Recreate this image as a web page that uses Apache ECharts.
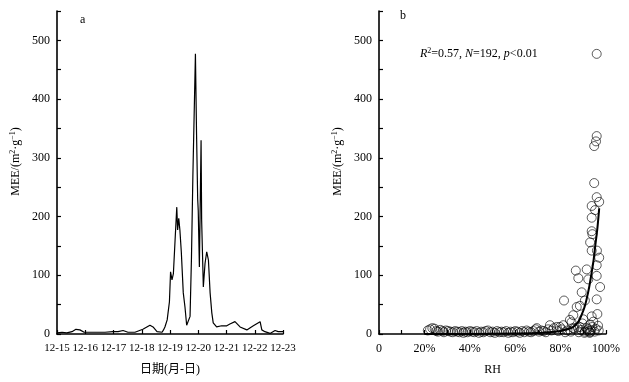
<!DOCTYPE html>
<html>
<head>
<meta charset="utf-8">
<script src="https://cdn.jsdelivr.net/npm/echarts@6/dist/echarts.min.js"></script>
<style>
  html, body { margin: 0; padding: 0; background: #fff; }
  #chart { width: 629px; height: 382px; }
</style>
</head>
<body>
<div id="chart"></div>
<script>
// a: 日期 tick labels (day index 0..8)
var dateLabels = ['12-15', '12-16', '12-17', '12-18', '12-19', '12-20', '12-21', '12-22', '12-23'];

// a: MEE 时间序列 (x = 自12-15起的天数)
var meeDays = [0, 0.18, 0.35, 0.53, 0.67, 0.81, 0.96, 1.35, 1.70, 1.98, 2.16, 2.34, 2.51, 2.76,
  3.04, 3.29, 3.40, 3.54, 3.72, 3.77, 3.82, 3.90, 3.98, 4.02, 4.07, 4.12, 4.18, 4.24, 4.27,
  4.31, 4.35, 4.40, 4.44, 4.47, 4.53, 4.59, 4.65, 4.71, 4.76, 4.81, 4.90, 4.94, 4.98, 5.00,
  5.04, 5.10, 5.12, 5.18, 5.24, 5.30, 5.36, 5.42, 5.48, 5.53, 5.65, 5.83, 6.01, 6.12, 6.30,
  6.48, 6.72, 6.95, 7.19, 7.25, 7.36, 7.54, 7.72, 7.83, 8.0];
var meeValues = [2, 3, 2, 4, 8, 7, 3, 3, 3, 4, 4, 6, 3, 3,
  8, 15, 12, 4, 3, 7, 12, 24, 55, 106, 92, 103, 160, 216, 177,
  197, 177, 140, 140, 70, 46, 15, 12, 30, 130, 270, 477, 340, 230, 210,
  114, 330, 194, 80, 120, 140, 126, 70, 36, 19, 12, 14, 14, 17, 21,
  12, 7, 14, 21, 7, 4, 1, 6, 4, 4];

// b: RH (%) 与 MEE 散点
var rhPoints = [21.5, 22.5, 23.5, 24.5, 25.2, 26, 27, 28, 28.6, 29.5, 30.5, 31.5, 32.5, 33.5, 34.5,
  35.5, 36.5, 37.2, 38, 39, 40, 41, 42, 43, 44, 45, 46, 47, 48, 49, 50, 51, 52, 53, 54, 55,
  56, 57, 58, 59, 60, 61, 62, 63, 64, 65, 66, 67, 68, 69, 69.5, 70.5, 71.5, 72.5, 73.5, 74.5,
  75.3, 76, 77, 78.3, 79, 79.7, 80.5, 81.2, 81.5, 82, 83, 84.1, 84.5, 85.6, 85.6, 86, 86.7, 87.1,
  87.8, 88, 88.5, 88.5, 89, 89.3, 90, 90.5, 90.7, 90.7, 91.5, 91.5, 92, 92.2, 92.5, 93, 93, 93,
  93.4, 93.7, 93.7, 93.7, 93.7, 93.7, 94, 94, 94.4, 94.8, 94.8, 95, 95.2, 95.5, 95.6, 95.9, 95.9,
  95.9, 95.9, 95.9, 95.9, 96.2, 96.5, 96.8, 97, 97, 97.4, 96, 92.8, 89.6, 87.4, 84.8];
var meePoints = [6, 8, 10, 9, 5, 4, 7, 5, 3, 6, 5, 4, 3, 5, 4,
  3, 5, 2, 4, 3, 5, 4, 3, 5, 2, 4, 3, 5, 6, 3, 4, 2, 5, 3, 4, 3,
  5, 2, 4, 3, 5, 4, 2, 5, 3, 6, 4, 3, 5, 8, 10, 4, 6, 5, 3, 8,
  15, 6, 10, 12, 5, 12, 8, 15, 57, 3, 6, 24, 4, 32, 10, 9, 108, 46,
  95, 3, 48, 12, 7, 71, 25, 2, 57, 4, 110, 10, 8, 93, 5, 156, 16, 3,
  6, 218, 198, 175, 142, 30, 170, 12, 21, 320, 257, 4, 211, 9, 328, 477, 337,
  233, 117, 99, 59, 34, 14, 6, 225, 130, 80, 142, 2, 18, 11, 20, 14];

// b: 指数拟合曲线
var fitRh = [20, 40, 60, 70, 75, 80, 83, 85.6, 88, 89.3, 90.5, 91.5, 92.6, 93.7, 94.5, 95.2, 96.2, 97];
var fitMee = [0.1, 0.2, 0.8, 1.5, 3, 5, 8, 12, 22, 33, 45, 60, 80, 105, 125, 148, 180, 214];

var rhTicks = ['0', '20%', '40%', '60%', '80%', '100%'];

var font = '"Liberation Serif", "Noto Sans CJK SC", serif';

var lineData = meeDays.map(function (d, i) { return [d, meeValues[i]]; });
var scatterData = rhPoints.map(function (r, i) { return [r, meePoints[i]]; });
var fitData = fitRh.map(function (r, i) { return [r, fitMee[i]]; });

var chart = echarts.init(document.getElementById('chart'));

var axisLine = { show: true, lineStyle: { color: '#000', width: 1.6 } };
var axisTick = { show: true, inside: true, length: 4, lineStyle: { color: '#000', width: 1.2 } };
var yName = 'MEE/(m{sup|2}·g{sup|−1})';
// 左侧 padding 把竖排标题往上挪一点
var yNameStyle = {
  fontFamily: font, fontSize: 12, color: '#000', padding: [0, 0, 0, 22],
  rich: { sup: { fontFamily: font, fontSize: 8, color: '#000', verticalAlign: 'top', padding: [0, 0, 6, 0] } }
};

function yAxis(idx) {
  return {
    type: 'value', gridIndex: idx, min: 0, max: 550, interval: 50,
    name: yName, nameLocation: 'middle', nameGap: 34, nameTextStyle: yNameStyle,
    axisLine: axisLine, axisTick: axisTick,
    axisLabel: {
      color: '#000', fontFamily: font, fontSize: 12, margin: 7,
      formatter: function (v) { return v % 100 === 0 ? v : ''; }
    },
    splitLine: { show: false }
  };
}

option = {
  animation: false,
  backgroundColor: '#fff',
  grid: [
    { left: 57, right: 346, top: 11, bottom: 48 },
    { left: 379, right: 23, top: 11, bottom: 48 }
  ],
  xAxis: [
    {
      type: 'value', gridIndex: 0, min: 0, max: 8, interval: 1,
      name: '日期(月-日)', nameLocation: 'middle', nameGap: 30,
      nameTextStyle: { fontFamily: font, fontSize: 12, color: '#000' },
      axisLine: axisLine, axisTick: axisTick,
      axisLabel: {
        color: '#000', fontFamily: font, fontSize: 11, margin: 9,
        formatter: function (v) { return dateLabels[Math.round(v)]; }
      },
      splitLine: { show: false }
    },
    {
      type: 'value', gridIndex: 1, min: 0, max: 100, interval: 10,
      name: 'RH', nameLocation: 'middle', nameGap: 30,
      nameTextStyle: { fontFamily: font, fontSize: 12, color: '#000' },
      axisLine: axisLine, axisTick: axisTick,
      axisLabel: {
        color: '#000', fontFamily: font, fontSize: 12, margin: 9,
        formatter: function (v) { return v % 20 === 0 ? rhTicks[v / 20] : ''; }
      },
      splitLine: { show: false }
    }
  ],
  yAxis: [yAxis(0), yAxis(1)],
  graphic: [
    { type: 'text', left: 80, top: 14, style: { text: 'a', fontFamily: font, fontSize: 12, fill: '#000' } },
    { type: 'text', left: 400, top: 10, style: { text: 'b', fontFamily: font, fontSize: 12, fill: '#000' } },
    {
      type: 'text', left: 420, top: 47,
      style: {
        text: '{i|R}{sup|2}=0.57, {i|N}=192, {i|p}<0.01',
        fontFamily: font, fontSize: 12, fill: '#000',
        rich: {
          i: { fontFamily: font, fontSize: 12, fontStyle: 'italic', fill: '#000' },
          sup: { fontFamily: font, fontSize: 8, fill: '#000', verticalAlign: 'top', padding: [0, 0, 6, 0] }
        }
      }
    }
  ],
  series: [
    {
      type: 'line', xAxisIndex: 0, yAxisIndex: 0, data: lineData,
      showSymbol: false, symbol: 'none',
      lineStyle: { color: '#000', width: 1.2 }
    },
    {
      type: 'scatter', xAxisIndex: 1, yAxisIndex: 1, data: scatterData,
      symbol: 'circle', symbolSize: 9,
      itemStyle: { color: 'rgba(255,255,255,0)', borderColor: '#000', borderWidth: 0.8 }
    },
    {
      type: 'line', xAxisIndex: 1, yAxisIndex: 1, data: fitData,
      showSymbol: false, symbol: 'none', smooth: 0.3,
      lineStyle: { color: '#000', width: 2 }
    }
  ]
};

chart.setOption(option);
</script>
</body>
</html>
